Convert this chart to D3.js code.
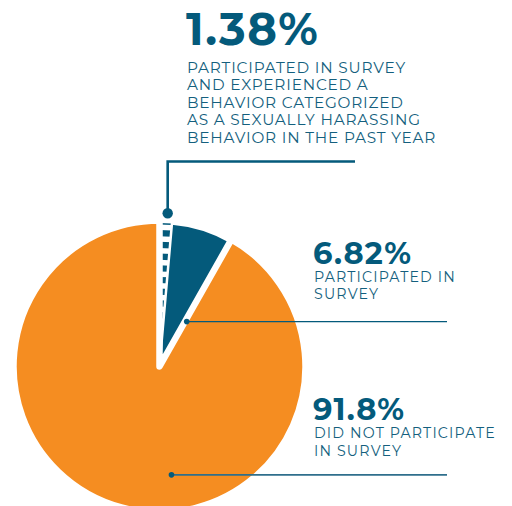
<!DOCTYPE html>
<html>
<head>
<meta charset="utf-8">
<script src="https://cdn.jsdelivr.net/npm/d3@7"></script>
<style>
  html, body { margin: 0; padding: 0; background: #fff; }
  svg { display: block; }
</style>
</head>
<body>
<div id="chart"></div>
<script>
// Data
const keys = ['harassed', 'participated', 'notParticipated'];
const values = [1.38, 6.82, 91.8];
const percentLabels = ['1.38%', '6.82%', '91.8%'];
const descriptions = [
    ['PARTICIPATED IN SURVEY', 'AND EXPERIENCED A', 'BEHAVIOR CATEGORIZED', 'AS A SEXUALLY HARASSING', 'BEHAVIOR IN THE PAST YEAR'],
    ['PARTICIPATED IN', 'SURVEY'],
    ['DID NOT PARTICIPATE', 'IN SURVEY']
];

function draw() {
    const dimensions = {
        width: 512,
        height: 506,
        cx: 159.5,
        cy: 366.5,
        radius: 146
    };

    const orange = '#f58d21';
    const teal = '#045a7b';
    const textTeal = '#145f7e';

    const svg = d3.select('#chart')
        .append('svg')
        .attr('width', dimensions.width)
        .attr('height', dimensions.height);

    const pie = d3.pie().sort(null).value(d => d)
        .startAngle(0).endAngle(2 * Math.PI);
    const slices = pie(values);

    const arc = d3.arc().innerRadius(0).outerRadius(dimensions.radius);
    const tealArc = d3.arc().innerRadius(0).outerRadius(dimensions.radius - 2.5);

    const pieGroup = svg.append('g')
        .attr('transform', `translate(${dimensions.cx}, ${dimensions.cy})`);

    // orange (did not participate)
    pieGroup.append('path')
        .attr('d', arc(slices[2]))
        .attr('fill', orange);

    // teal (participated)
    pieGroup.append('path')
        .attr('d', tealArc(slices[1]))
        .attr('fill', teal);

    // dashed slice (harassed) - a thick dashed ray clipped to the wedge
    svg.append('clipPath').attr('id', 'wedgeClip')
        .append('path')
        .attr('d', tealArc(slices[0]));
    const mid = (slices[0].startAngle + slices[0].endAngle) / 2;
    const rayR = dimensions.radius;
    pieGroup.append('line')
        .attr('clip-path', 'url(#wedgeClip)')
        .attr('x1', Math.sin(mid) * rayR)
        .attr('y1', -Math.cos(mid) * rayR)
        .attr('x2', 0)
        .attr('y2', 0)
        .attr('stroke', teal)
        .attr('stroke-width', 22)
        .attr('stroke-dasharray', '6.2 5.5')
        .attr('stroke-dashoffset', 2);

    // white separators
    pieGroup.append('path')
        .attr('d', tealArc(slices[1]))
        .attr('fill', 'none')
        .attr('stroke', '#fff')
        .attr('stroke-width', 2.5)
        .attr('stroke-linejoin', 'round');
    pieGroup.append('path')
        .attr('d', arc(slices[2]))
        .attr('fill', 'none')
        .attr('stroke', '#fff')
        .attr('stroke-width', 6.5)
        .attr('stroke-linejoin', 'round');

    // Leaders
    const polar = (angle, r) => [Math.sin(angle) * r, -Math.cos(angle) * r];
    const leaders = pieGroup.append('g');

    // 1.38% leader: dot above wedge, up and then right
    const p0 = polar(mid + 0.01, dimensions.radius + 7.5);
    const topY = 161.5 - dimensions.cy;
    leaders.append('path')
        .attr('d', `M${p0[0]},${p0[1]} V${topY} H${355 - dimensions.cx}`)
        .attr('fill', 'none')
        .attr('stroke', teal)
        .attr('stroke-width', 2.6);
    leaders.append('circle')
        .attr('cx', p0[0]).attr('cy', p0[1])
        .attr('r', 5.2)
        .attr('fill', teal);

    // 6.82% leader
    const p1 = polar(slices[1].endAngle + 0.03, 52.5);
    leaders.append('line')
        .attr('x1', p1[0]).attr('y1', p1[1])
        .attr('x2', 447 - dimensions.cx).attr('y2', p1[1])
        .attr('stroke', teal)
        .attr('stroke-width', 1.4);
    leaders.append('circle')
        .attr('cx', p1[0]).attr('cy', p1[1])
        .attr('r', 2.8)
        .attr('fill', teal);

    // 91.8% leader
    const p2 = polar(Math.PI - 0.11, 109);
    leaders.append('line')
        .attr('x1', p2[0]).attr('y1', p2[1])
        .attr('x2', 447 - dimensions.cx).attr('y2', p2[1])
        .attr('stroke', '#2f6f8c')
        .attr('stroke-width', 1.6);
    leaders.append('circle')
        .attr('cx', p2[0]).attr('cy', p2[1])
        .attr('r', 2.8)
        .attr('fill', teal);

    // Labels
    const labelLayout = [
        { x: 186, y: 45, big: 45, bigSpacing: 1.6, small: 15.3, smallSpacing: 0.8, first: 72.7, step: 17.5 },
        { x: 313, y: 263.5, big: 30.5, bigSpacing: 1.2, small: 14.2, smallSpacing: 1.15, first: 281.7, step: 17.6 },
        { x: 313, y: 419.5, big: 30.5, bigSpacing: 1.2, small: 14.2, smallSpacing: 1.15, first: 438.3, step: 17.4 }
    ];

    const labels = svg.append('g')
        .style('font-family', 'Montserrat, Inter, "Open Sans", sans-serif');

    labelLayout.forEach((l, i) => {
        labels.append('text')
            .attr('x', l.x)
            .attr('y', l.y)
            .attr('fill', teal)
            .style('font-weight', 700)
            .style('font-size', l.big + 'px')
            .style('letter-spacing', l.bigSpacing + 'px')
            .text(percentLabels[i]);
        labels.selectAll(null)
            .data(descriptions[i])
            .join('text')
            .attr('x', l.x + 1)
            .attr('y', (d, j) => l.first + j * l.step)
            .attr('fill', textTeal)
            .style('font-weight', 400)
            .style('font-size', l.small + 'px')
            .style('letter-spacing', l.smallSpacing + 'px')
            .text(d => d);
    });
}

draw();
</script>
</body>
</html>
